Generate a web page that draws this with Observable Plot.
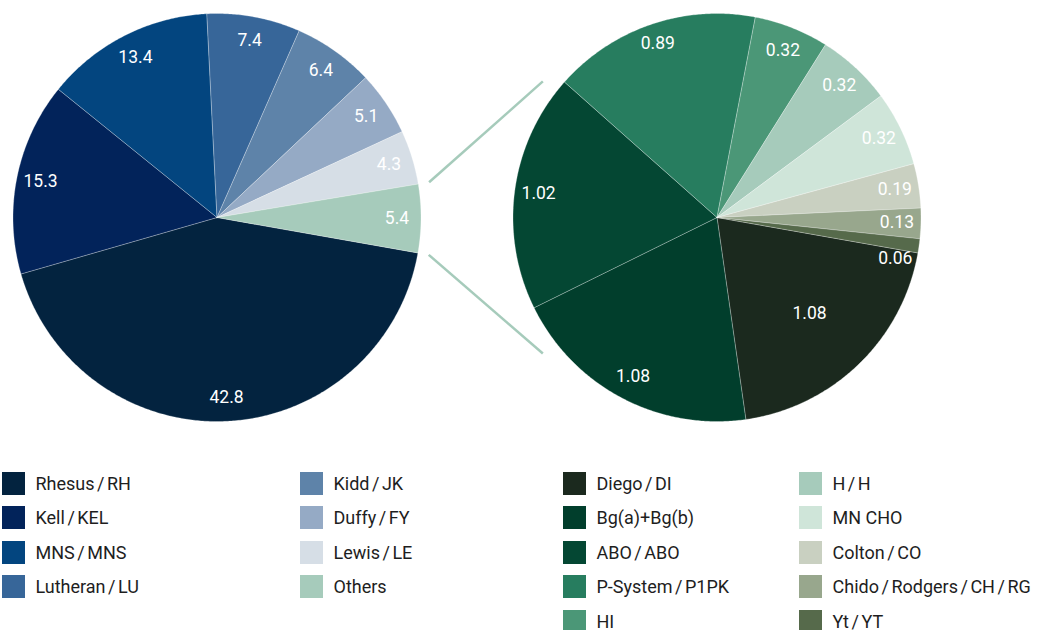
<!DOCTYPE html>
<html><head><meta charset="utf-8">
<script src="https://cdn.jsdelivr.net/npm/d3@7"></script>
<script src="https://cdn.jsdelivr.net/npm/@observablehq/plot@0.6"></script>
<style>
body{margin:0;background:#fff;font-family:Roboto,"Open Sans",sans-serif;}
#wrap{position:relative;width:1039px;height:630px;overflow:hidden;}
#legend{position:absolute;left:0;top:440px;width:1039px;height:190px;}
.item{position:absolute;height:23px;width:240px;font-size:18px;color:#1e1e1e;white-space:nowrap;}
.sw{position:absolute;left:0;top:0;width:23px;height:23px;}
.lab{position:absolute;left:33.5px;top:3px;line-height:17px;}
.sl{margin:0 2.5px;}
</style></head><body><div id="wrap"><div id="chart"></div><div id="legend"></div></div>
<script>
// Left pie: major blood group systems (clockwise, legend order)
const leftNames = ["Rhesus/RH","Kell/KEL","MNS/MNS","Lutheran/LU","Kidd/JK","Duffy/FY","Lewis/LE","Others"];
const leftValues = [42.8, 15.3, 13.4, 7.4, 6.4, 5.1, 4.3, 5.4];
const leftColors = ["#03233f","#02235a","#03457f","#376699","#5e83a9","#95aac5","#d6dee6","#a6cbbb"];
// Right pie: breakdown of "Others"
const rightNames = ["Diego/DI","Bg(a)+Bg(b)","ABO/ABO","P-System/P1PK","HI","H/H","MN CHO","Colton/CO","Chido/Rodgers/CH/RG","Yt/YT"];
const rightValues = [1.08, 1.08, 1.02, 0.89, 0.32, 0.32, 0.32, 0.19, 0.13, 0.06];
const rightColors = ["#1b291e","#013e2c","#044733","#277d5f","#4b9777","#a6cbbb","#cfe5d9","#c9d0c1","#98a78d","#566a4b"];

const W = 1039, H = 440, R = 204, START = 100;
const rad = a => a * Math.PI / 180;

function buildPie(names, values, cx, cy, fmt, tweaks) {
  const total = d3.sum(values);
  const pts = [], labels = [], angles = [];
  let acc = 0;
  names.forEach((n, i) => {
    const a0 = START + acc / total * 360;
    acc += values[i];
    const a1 = START + acc / total * 360;
    angles.push([a0, a1]);
    pts.push({name: n, x: cx, y: cy});
    const steps = Math.max(2, Math.ceil((a1 - a0) / 0.5));
    for (let k = 0; k <= steps; k++) {
      const a = rad(a0 + (a1 - a0) * k / steps);
      pts.push({name: n, x: cx + R * Math.sin(a), y: cy - R * Math.cos(a)});
    }
    pts.push({name: n, x: cx, y: cy});
    const t = tweaks[n] || {};
    const lr = t.r ?? 180;
    const m = rad((a0 + a1) / 2);
    labels.push({text: fmt(values[i]), x: cx + lr * Math.sin(m), y: cy - lr * Math.cos(m) + (t.dy || 0)});
  });
  return {pts, labels, angles};
}

const LC = [216.5, 217], RC = [716.5, 217];
const left = buildPie(leftNames, leftValues, LC[0], LC[1], d3.format(".1f"), {});
const right = buildPie(rightNames, rightValues, RC[0], RC[1], d3.format(".2f"),
  {"Diego/DI": {r: 133}, "Yt/YT": {dy: 16}, "P-System/P1PK": {r: 184}});

// connector lines from the "Others" slice to the breakdown pie
const oth = left.angles[leftNames.indexOf("Others")];
const pt = (c, a, r) => [c[0] + r * Math.sin(rad(a)), c[1] - r * Math.cos(rad(a))];
const connectors = [
  [pt(LC, oth[0], R + 11), pt(RC, 308, R + 17)],
  [pt(LC, oth[1], R + 11), pt(RC, 232, R + 17)]
].map(([a, b]) => ({x1: a[0], y1: a[1], x2: b[0], y2: b[1]}));

const allNames = leftNames.concat(rightNames);
const allColors = leftColors.concat(rightColors);

const chart = Plot.plot({
  width: W, height: H, margin: 0,
  x: {type: "identity", axis: null},
  y: {type: "identity", axis: null},
  color: {type: "ordinal", domain: allNames, range: allColors},
  style: {background: "white"},
  marks: [
    Plot.line(left.pts.concat(right.pts), {x: "x", y: "y", z: "name", fill: "name", stroke: "white", strokeWidth: 0.6, strokeOpacity: 0.45, curve: "linear"}),
    Plot.link(connectors, {x1: "x1", y1: "y1", x2: "x2", y2: "y2", stroke: "#a6cbbb", strokeWidth: 2.5}),
    Plot.text(left.labels.concat(right.labels), {x: "x", y: "y", text: "text", fill: "white", fontSize: 17.5, fontFamily: "Roboto"})
  ]
});
document.getElementById("chart").appendChild(chart);

// legend
const legend = document.getElementById("legend");
const color = chart.scale("color");
const cols = [
  {x: 2, names: leftNames.slice(0, 4)},
  {x: 300, names: leftNames.slice(4)},
  {x: 563, names: rightNames.slice(0, 5)},
  {x: 799, names: rightNames.slice(5)}
];
cols.forEach(col => col.names.forEach((n, row) => {
  const it = document.createElement("div");
  it.className = "item";
  it.style.left = col.x + "px";
  it.style.top = (43 + row * 34.5 - 11.5) + "px";
  const sw = document.createElement("div");
  sw.className = "sw";
  sw.style.background = color.apply(n);
  const lab = document.createElement("span");
  lab.className = "lab";
  n.split("/").forEach((part, j) => {
    if (j > 0) {
      const s = document.createElement("span");
      s.className = "sl";
      s.textContent = "/";
      lab.appendChild(s);
    }
    lab.appendChild(document.createTextNode(part));
  });
  it.appendChild(sw); it.appendChild(lab);
  legend.appendChild(it);
}));
</script></body></html>
